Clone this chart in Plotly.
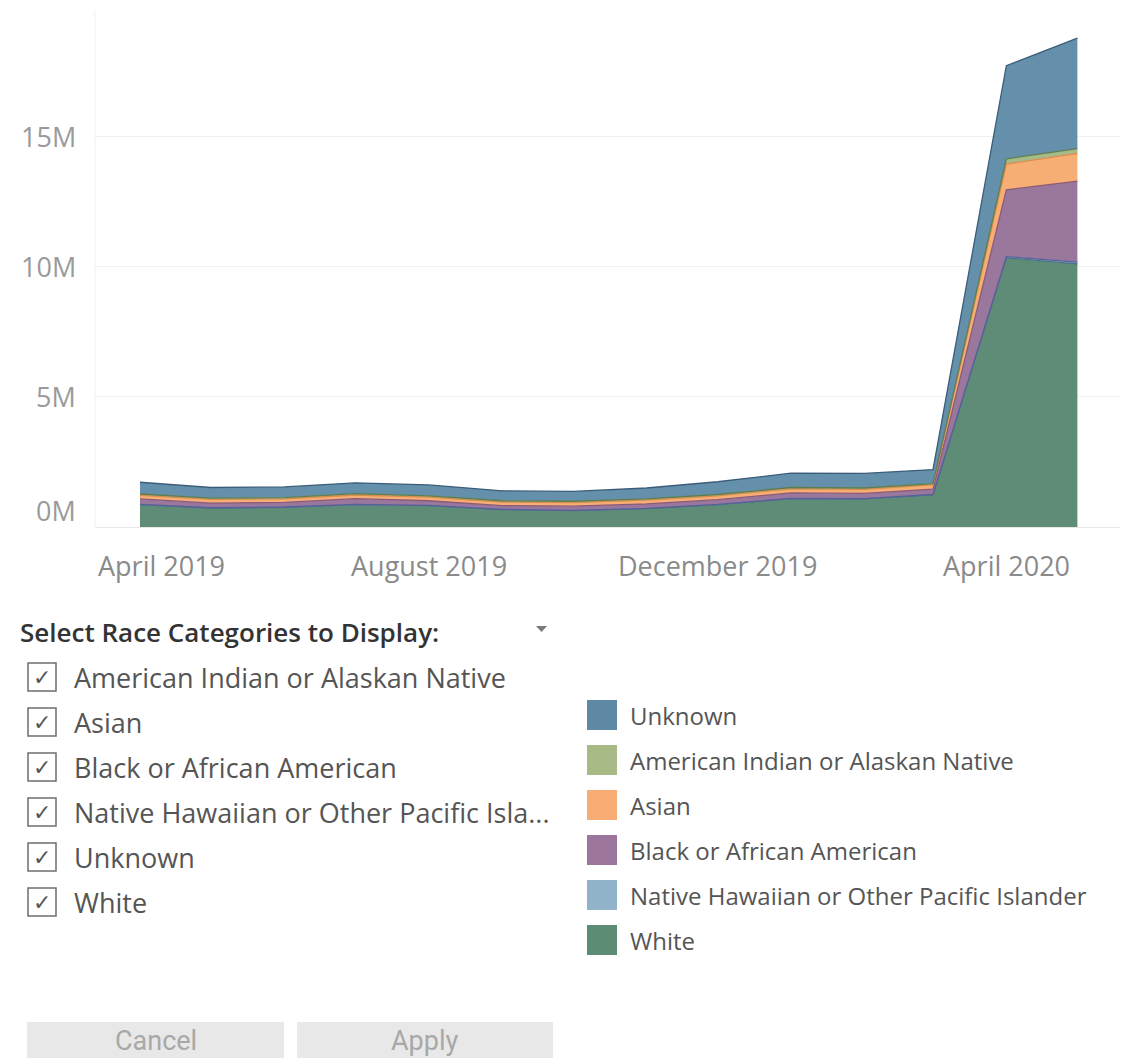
import plotly.graph_objects as go

W, H = 1127, 1058

# ---------------- data (millions) ----------------
months = ["2019-04-01", "2019-05-01", "2019-06-01", "2019-07-01", "2019-08-01", "2019-09-01",
          "2019-10-01", "2019-11-01", "2019-12-01", "2020-01-01", "2020-02-01", "2020-03-01",
          "2020-04-01", "2020-05-01"]
white = [0.86, 0.73, 0.76, 0.86, 0.82, 0.67, 0.63, 0.71, 0.86, 1.09, 1.08, 1.24, 10.35, 10.12]
nhpi = [0.01, 0.01, 0.01, 0.01, 0.01, 0.01, 0.01, 0.01, 0.01, 0.01, 0.01, 0.01, 0.05, 0.07]
black = [0.21, 0.18, 0.18, 0.22, 0.18, 0.14, 0.16, 0.17, 0.18, 0.21, 0.20, 0.21, 2.57, 3.11]
asian = [0.14, 0.14, 0.13, 0.14, 0.14, 0.14, 0.14, 0.14, 0.15, 0.16, 0.16, 0.16, 0.99, 1.07]
aian = [0.05, 0.05, 0.05, 0.05, 0.05, 0.05, 0.05, 0.05, 0.05, 0.05, 0.05, 0.05, 0.20, 0.18]
unknown = [0.45, 0.41, 0.41, 0.42, 0.42, 0.38, 0.38, 0.42, 0.49, 0.55, 0.56, 0.54, 3.58, 4.25]

y_tick_vals = [0, 5, 10, 15]
y_tick_text = ["0M", "5M", "10M", "15M"]
x_tick_vals = ["2019-04-01", "2019-08-01", "2019-12-01", "2020-04-01"]
x_tick_text = ["April 2019", "August 2019", "December 2019", "April 2020"]

filter_title = "Select Race Categories to Display:"
filter_items = ["American Indian or Alaskan Native", "Asian", "Black or African American",
                "Native Hawaiian or Other Pacific Isla...", "Unknown", "White"]
legend_items = ["Unknown", "American Indian or Alaskan Native", "Asian",
                "Black or African American", "Native Hawaiian or Other Pacific Islander", "White"]

# ---------------- styles ----------------
series = [
    ("White", white, "#5f8c76", "#4d6f8a"),
    ("Native Hawaiian or Other Pacific Islander", nhpi, "#93b4c9", "#56609a"),
    ("Black or African American", black, "#9a779c", "#8a5a78"),
    ("Asian", asian, "#f7ae74", "#d98c4e"),
    ("American Indian or Alaskan Native", aian, "#a6ba88", "#5f7e4e"),
    ("Unknown", unknown, "#6590ab", "#3b5d79"),
]
legend_colors = {
    "Unknown": "#5d89a5",
    "American Indian or Alaskan Native": "#a8bb87",
    "Asian": "#f8ad74",
    "Black or African American": "#9b759c",
    "Native Hawaiian or Other Pacific Islander": "#91b3c9",
    "White": "#5d8c75",
}

FONT = "Open Sans"


def px(x):
    return x / W


def py(y):
    return 1 - y / H


fig = go.Figure()
for name, vals, fill, line in series:
    fig.add_trace(go.Scatter(
        x=months, y=vals, name=name, mode="lines", stackgroup="one",
        line=dict(color=line, width=1.3), fillcolor=fill, showlegend=False,
        hovertemplate="%{x|%B %Y}<br>" + name + ": %{y:.2f}M<extra></extra>",
    ))

annotations = []
shapes = []

# y labels
for v, t in zip(y_tick_vals, y_tick_text):
    annotations.append(dict(
        x=px(78), xref="paper", y=v, yref="y", text=t, showarrow=False,
        xanchor="right", yanchor="middle", yshift=(17 if v == 0 else 0),
        font=dict(family=FONT, size=27, color="#9a9a9a")))

# x labels
for v, t in zip(x_tick_vals, x_tick_text):
    annotations.append(dict(
        x=v, xref="x", y=py(565), yref="paper", text=t, showarrow=False,
        xanchor="center", yanchor="middle", xshift=(22 if v == "2019-04-01" else 0),
        font=dict(family=FONT, size=27, color="#8a8a8a")))

# filter title
annotations.append(dict(
    x=px(18), xref="paper", y=py(632), yref="paper", text=filter_title, showarrow=False,
    xanchor="left", yanchor="middle", font=dict(family=FONT, size=26, color="#333333", weight=600)))
shapes.append(dict(type="path", xref="paper", yref="paper",
                   path=f"M {px(536)} {py(626)} L {px(547)} {py(626)} L {px(541.5)} {py(632)} Z",
                   fillcolor="#7a7a7a", line=dict(width=0)))

# checkbox list
for i, item in enumerate(filter_items):
    cy = 677 + 45 * i
    shapes.append(dict(type="rect", xref="paper", yref="paper",
                       x0=px(28), x1=px(56), y0=py(cy - 14), y1=py(cy + 14),
                       line=dict(color="#6e6e6e", width=1.5), fillcolor="white"))
    annotations.append(dict(
        x=px(42), xref="paper", y=py(cy), yref="paper", text="✓", showarrow=False,
        xanchor="center", yanchor="middle", font=dict(family="DejaVu Sans", size=22, color="#555555")))
    annotations.append(dict(
        x=px(72), xref="paper", y=py(cy), yref="paper", text=item, showarrow=False,
        xanchor="left", yanchor="middle", font=dict(family=FONT, size=27, color="#555555")))

# color legend
for i, item in enumerate(legend_items):
    cy = 715 + 45 * i
    shapes.append(dict(type="rect", xref="paper", yref="paper",
                       x0=px(587), x1=px(617), y0=py(cy - 15), y1=py(cy + 15),
                       line=dict(width=0), fillcolor=legend_colors[item]))
    annotations.append(dict(
        x=px(628), xref="paper", y=py(cy), yref="paper", text=item, showarrow=False,
        xanchor="left", yanchor="middle", font=dict(family=FONT, size=24, color="#555555")))

# buttons
for x0, x1, label in [(27, 284, "Cancel"), (297, 553, "Apply")]:
    shapes.append(dict(type="rect", xref="paper", yref="paper",
                       x0=px(x0), x1=px(x1), y0=py(1058), y1=py(1022),
                       line=dict(width=0), fillcolor="#e8e8e8"))
    annotations.append(dict(
        x=px((x0 + x1) / 2), xref="paper", y=py(1041), yref="paper", text=label, showarrow=False,
        xanchor="center", yanchor="middle", font=dict(family="Roboto", size=27, color="#a8a8a8")))

fig.update_layout(
    width=W, height=H, margin=dict(l=0, r=0, t=0, b=0),
    paper_bgcolor="white", plot_bgcolor="white",
    xaxis=dict(domain=[px(95), px(1120)], type="date",
               range=["2019-03-13", "2020-05-19"], tickvals=x_tick_vals,
               showticklabels=False, showgrid=False, zeroline=False, showline=False, ticks=""),
    yaxis=dict(domain=[py(527), py(15)], range=[0, 19.69], tickvals=y_tick_vals,
               showticklabels=False, showgrid=True, gridcolor="#f0f0f0", gridwidth=1,
               zeroline=True, zerolinecolor="#e8e8e8", zerolinewidth=1, showline=False, ticks=""),
    annotations=annotations, shapes=shapes,
    font=dict(family=FONT),
)
# faint y-axis line at the left of the plot
fig.add_shape(type="line", xref="paper", yref="paper", x0=px(95), x1=px(95), y0=py(527), y1=py(10),
              line=dict(color="#f2f2f2", width=1))

fig.write_html("out.html")
